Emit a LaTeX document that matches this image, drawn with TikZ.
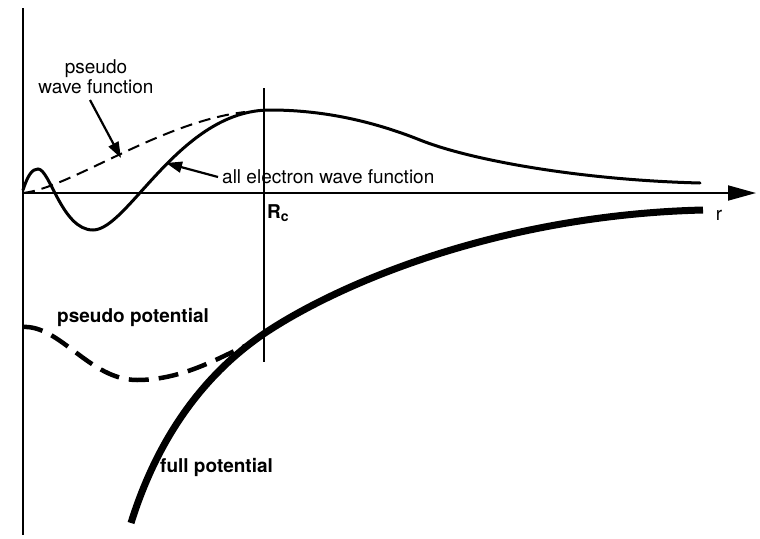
\documentclass[tikz,border=0pt]{standalone}
\usepackage{fontspec}
\setmainfont{TeX Gyre Heros}
\usetikzlibrary{arrows.meta}
\begin{document}
\begin{tikzpicture}[x=1pt,y=-1pt,
  lbl/.style={inner sep=0pt,font=\fontsize{19}{20}\selectfont},
  blbl/.style={inner sep=0pt,font=\fontsize{19}{20}\selectfont\bfseries},
  axis/.style={line width=1.8pt},
  wave/.style={line width=3pt,line cap=round},
  pwave/.style={line width=2pt,dash pattern=on 12pt off 7pt},
  fullpot/.style={line width=7pt},
  pseudopot/.style={line width=4.5pt,dash pattern=on 20pt off 10pt},
  ptr/.style={line width=2.2pt,-{Triangle[length=16pt,width=11pt]}}]
\useasboundingbox (0,0) rectangle (760,538);
% axes
\coordinate (o) at (23,193);
\coordinate (ytop) at (23,8);
\coordinate (ybot) at (23,535);
\coordinate (xend) at (756,193);
\draw[axis] (ytop) -- (ybot);
\draw[axis,-{Triangle[length=28pt,width=15pt]}] (o) -- (xend);
% Rc line
\coordinate (rctop) at (264,88);
\coordinate (rcbot) at (264,362);
\draw[axis] (rctop) -- (rcbot);
\node[blbl,anchor=north west] (rc) at (267,204) {R\raisebox{-0.35ex}{\fontsize{14}{14}\selectfont c}};
\node[lbl,anchor=center] (r) at (719,215) {r};
% all electron wave function
\draw[wave] (23,190) .. controls (28,175) and (32,169) .. (38,169)
  .. controls (50,169) and (62,230) .. (93,230)
  .. controls (128,230) and (180,110) .. (270,110)
  .. controls (320,110) and (370,120) .. (420,140)
  .. controls (470,160) and (580,180) .. (700,183);
% pseudo wave function
\draw[pwave] (23,193) .. controls (70,188) and (160,122) .. (245,112);
% full potential
\draw[fullpot] (131,523) .. controls (160,430) and (210,370) .. (265,333)
  .. controls (340,283) and (500,215) .. (703,210);
% pseudo potential
\draw[pseudopot] (23,327) .. controls (60,325) and (90,380) .. (137,380)
  .. controls (180,380) and (215,360) .. (245,346);
% labels
\node[lbl,align=center] (pwf) at (96,77) {pseudo\\wave function};
\coordinate (pwftip) at (121,158);
\draw[ptr] (90,100) -- (pwftip);
\node[lbl,anchor=west] (aewf) at (222,177) {all electron wave function};
\coordinate (aetip) at (166,163);
\draw[ptr] (aewf.west) ++(-4,0) -- (aetip);
\node[blbl,anchor=west] (pp) at (57,317) {pseudo potential};
\node[blbl,anchor=west] (fp) at (160,467) {full potential};
\end{tikzpicture}
\end{document}
